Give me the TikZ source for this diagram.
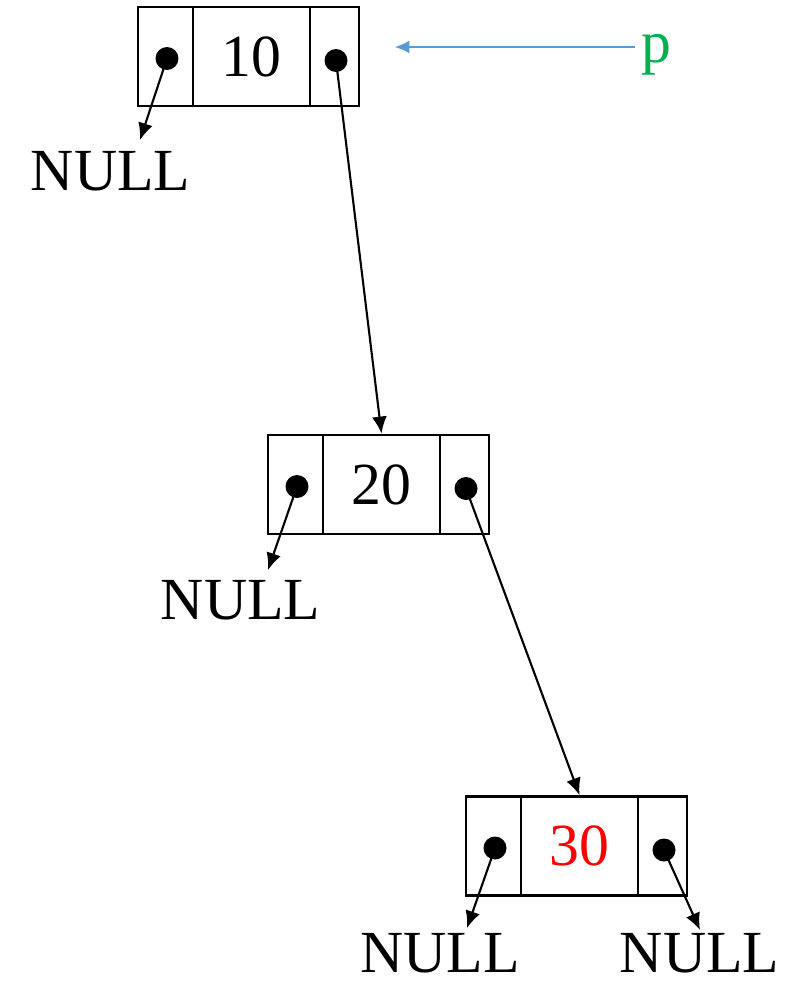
\documentclass[tikz,border=0pt]{standalone}
\usepackage{fontspec}
\setmainfont{Liberation Serif}
\usetikzlibrary{arrows.meta}
\definecolor{pblue}{HTML}{5B9BD5}
\definecolor{pgreen}{HTML}{00B050}

\begin{document}
\begin{tikzpicture}[x=0.02cm,y=-0.02cm]
	\tikzset{cell/.style={draw, line width=1.6pt, minimum height=1.98cm, inner sep=0pt},
	dot/.style={circle, fill=black, minimum size=0.46cm, inner sep=0pt},
	ptr/.style={-{Latex[length=0.34cm,width=0.3cm]}, line width=1.2pt},
	big/.style={font=\fontsize{34}{40}\selectfont},
	nil/.style={big, anchor=base, inner sep=0pt}};
	\useasboundingbox (0,0) rectangle (810,984);
	\foreach \x/\y/\n/\v/\col in {138/56.5/1/10/black, 268/484.5/2/20/black, 466/846/3/30/red}{
		\node[cell, minimum width=1.1cm] (l\n) at (\x+27.5, \y) {};
		\node[cell, big, minimum width=2.34cm, text=\col] (v\n) at (\x+113.5, \y) {\v};
		\node[cell, minimum width=0.98cm] (r\n) at (\x+196.5, \y) {};
		\node[dot] (dl\n) at (\x+29, \y+2) {};
		\node[dot] (dr\n) at (\x+198, \y+4) {};
	}
	% the NULL ends
	\node[nil] (nl1) at (110.5, 190) {NULL};
	\node[nil] (nl2) at (240.5, 619) {NULL};
	\node[nil] (nl3) at (440, 972) {NULL};
	\node[nil] (nr3) at (699.5, 972) {NULL};
	\coordinate (e1) at (140, 140);
	\coordinate (e2) at (268, 570);
	\coordinate (e3) at (467, 928);
	\coordinate (e4) at (700, 930);

	\draw[ptr] (dl1.center) -- (e1);
	\draw[ptr] (dl2.center) -- (e2);
	\draw[ptr] (dl3.center) -- (e3);
	\draw[ptr] (dr3.center) -- (e4);
	\draw[ptr] (dr1.center) -- (v2.north);
	\draw[ptr] (dr2.center) -- (v3.north);

	\node[big, text=pgreen] (p) at (656, 55) {p};
	\draw[pblue, line width=1.5pt, -{Latex[length=0.3cm,width=0.26cm]}, shorten >=0.68cm]
		([yshift=0.16cm]p.west) -- ([yshift=0.16cm]p.west -| r1.east);
\end{tikzpicture}
\end{document}
